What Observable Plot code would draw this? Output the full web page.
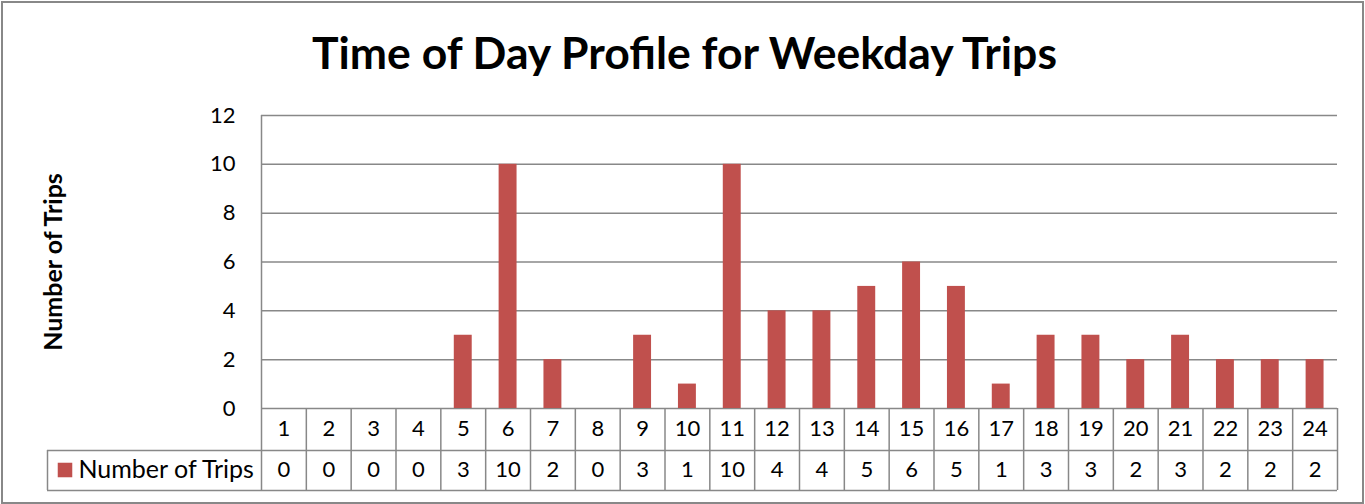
<!DOCTYPE html>
<html>
<head>
<meta charset="utf-8">
<script src="https://cdn.jsdelivr.net/npm/d3@7"></script>
<script src="https://cdn.jsdelivr.net/npm/@observablehq/plot@0.6"></script>
<style>
  html, body { margin: 0; padding: 0; background: #fff; }
  #wrap { position: relative; width: 1365px; height: 504px; overflow: hidden; }
  #border { position: absolute; left: 1px; top: 1px; width: 1359px; height: 499px; border: 2px solid #888; pointer-events: none; }
</style>
</head>
<body>
<div id="wrap"><div id="border"></div></div>
<script>
const titleText = "Time of Day Profile for Weekday Trips";
const seriesName = "Number of Trips";
const yLabel = "Number of Trips";
const hours = ["1","2","3","4","5","6","7","8","9","10","11","12","13","14","15","16","17","18","19","20","21","22","23","24"];
const trips = [0,0,0,0,3,10,2,0,3,1,10,4,4,5,6,5,1,3,3,2,3,2,2,2];
const yTicks = [0,2,4,6,8,10,12];

const data = hours.map((h, i) => ({hour: h, trips: trips[i]}));

const W = 1365, H = 504, mL = 261, mR = 28, mT = 115, mB = 96;
const plotW = W - mL - mR, plotH = H - mT - mB;
const step = plotW / hours.length;
const row1 = 42, row2 = 82, legendLeft = 214;
const barColor = "#C0504D";
const lineColor = "#888";
const font = "Lato, 'Open Sans', sans-serif";

const chart = Plot.plot({
  width: W, height: H,
  marginLeft: mL, marginRight: mR, marginTop: mT, marginBottom: mB,
  style: {fontFamily: font, color: "#000", background: "transparent"},
  x: {type: "band", domain: hours, padding: 0, round: false, axis: null},
  y: {domain: [0, 12], axis: null},
  marks: [
    Plot.gridY(yTicks, {stroke: lineColor, strokeOpacity: 1, strokeWidth: 1.5}),
    Plot.barY(data, {x: "hour", y: "trips", fill: barColor, insetLeft: step * 0.3, insetRight: step * 0.3}),
    // left axis line down through the table
    Plot.ruleX([hours[0]], {x: d => d, dx: -step / 2, stroke: lineColor, strokeWidth: 1.5, insetBottom: -row2}),
    // table vertical lines
    Plot.ruleX(hours, {x: d => d, dx: step / 2, stroke: lineColor, strokeWidth: 1.5, insetTop: plotH, insetBottom: -row2}),
    Plot.ruleX([hours[0]], {x: d => d, dx: -step / 2 - legendLeft, stroke: lineColor, strokeWidth: 1.5, insetTop: plotH + row1, insetBottom: -row2}),
    // table horizontal lines
    Plot.ruleY([0], {dy: row1, stroke: lineColor, strokeWidth: 1.5, insetLeft: -legendLeft}),
    Plot.ruleY([0], {dy: row2, stroke: lineColor, strokeWidth: 1.5, insetLeft: -legendLeft}),
    // table text
    Plot.text(hours, {x: d => d, frameAnchor: "bottom", dy: 20.5, fontSize: 22, lineAnchor: "middle", fill: "#000"}),
    Plot.text(data, {x: "hour", text: d => String(d.trips), frameAnchor: "bottom", dy: 61, fontSize: 22, lineAnchor: "middle", fill: "#000"}),
    // legend key + name
    Plot.dot([seriesName], {frameAnchor: "bottom-left", dx: -196.5, dy: 61.5, symbol: "square", r: 8.2, fill: barColor, stroke: null}),
    Plot.text([seriesName], {frameAnchor: "bottom-left", dx: -183, dy: 61, textAnchor: "start", lineAnchor: "middle", fontSize: 25, fill: "#000"}),
    // y axis
    Plot.axisY(yTicks, {tickSize: 0, tickPadding: 26, fontSize: 22, label: null, fill: "#000"}),
    Plot.text([yLabel], {frameAnchor: "left", dx: -208, rotate: -90, textAnchor: "middle", fontSize: 25, fontWeight: "bold", lineAnchor: "middle", fill: "#000"}),
    // title
    Plot.text([titleText], {frameAnchor: "top", dx: -115, dy: -61, fontSize: 44.5, fontWeight: "bold", lineAnchor: "middle", fill: "#000"})
  ]
});
document.getElementById("wrap").prepend(chart);
</script>
</body>
</html>
